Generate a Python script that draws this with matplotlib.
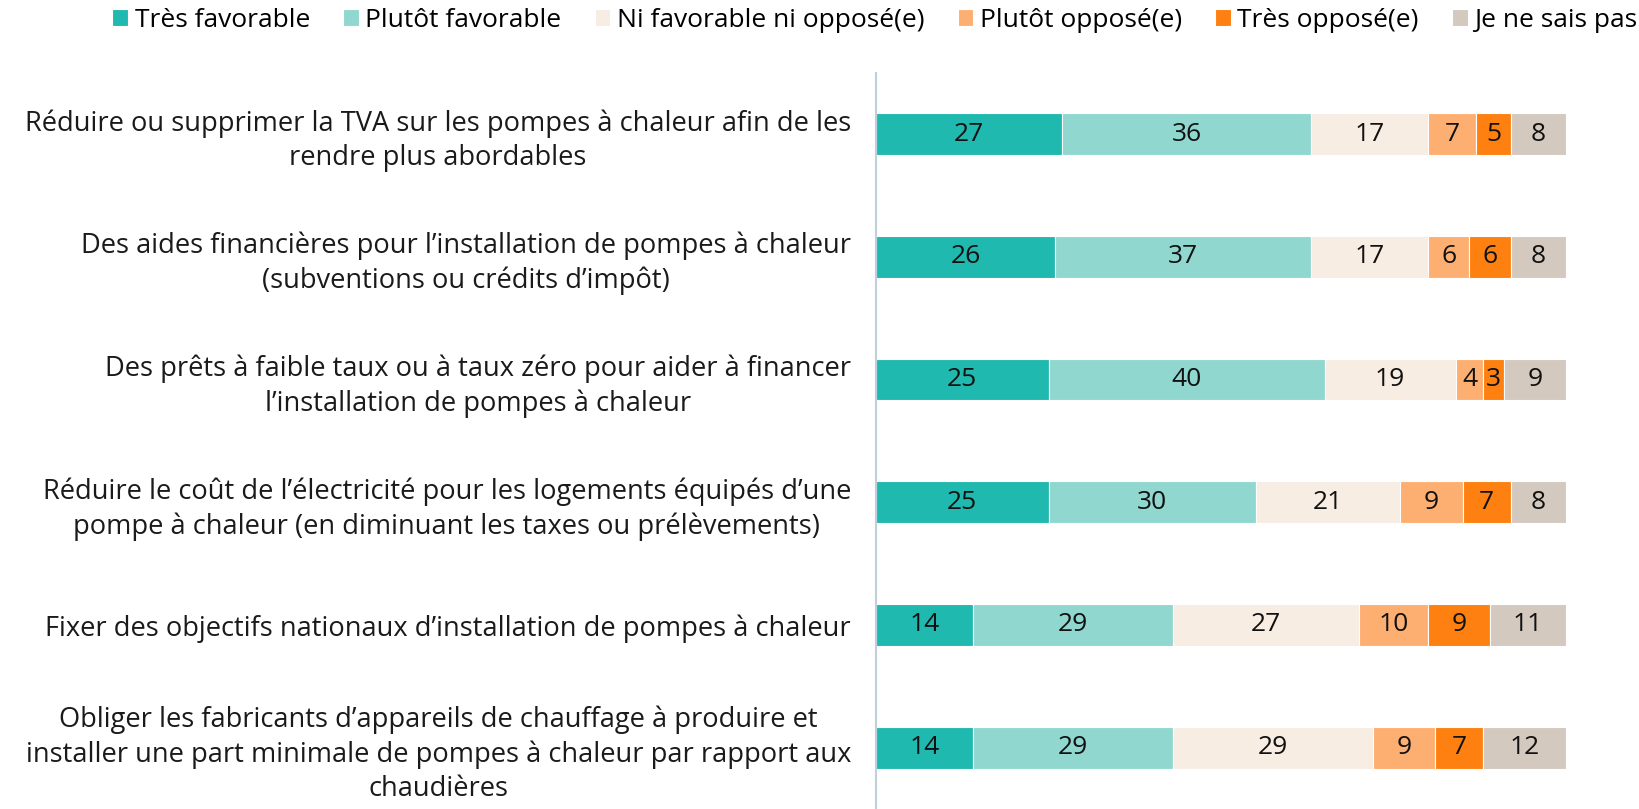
import numpy as np
import matplotlib
matplotlib.use("Agg")
import matplotlib.pyplot as plt

plt.rcParams['font.family'] = ['Open Sans', 'DejaVu Sans']

# Data
questions = [
    "Réduire ou supprimer la TVA sur les pompes à chaleur afin de les\nrendre plus abordables",
    "Des aides financières pour l’installation de pompes à chaleur\n(subventions ou crédits d’impôt)",
    "Des prêts à faible taux ou à taux zéro pour aider à financer\nl’installation de pompes à chaleur",
    "Réduire le coût de l’électricité pour les logements équipés d’une\npompe à chaleur (en diminuant les taxes ou prélèvements)",
    "Fixer des objectifs nationaux d’installation de pompes à chaleur",
    "Obliger les fabricants d’appareils de chauffage à produire et\ninstaller une part minimale de pompes à chaleur par rapport aux\nchaudières",
]
series_names = ["Très favorable", "Plutôt favorable", "Ni favorable ni opposé(e)",
                "Plutôt opposé(e)", "Très opposé(e)", "Je ne sais pas"]
tres_fav = [27, 26, 25, 25, 14, 14]
plutot_fav = [36, 37, 40, 30, 29, 29]
neutre = [17, 17, 19, 21, 27, 29]
plutot_opp = [7, 6, 4, 9, 10, 9]
tres_opp = [5, 6, 3, 7, 9, 7]
nsp = [8, 8, 9, 8, 11, 12]

colors = ["#20B9AF", "#90D7CF", "#F8EDE3", "#FDAF72", "#FD8010", "#D3C9BF"]

values = [tres_fav, plutot_fav, neutre, plutot_opp, tres_opp, nsp]

fig = plt.figure(figsize=(16.39, 8.09), dpi=100)
ax = fig.add_axes([0.5345, 0.0, 0.4210, 0.91])

y = np.arange(len(questions))
left = np.zeros(len(questions))
for name, vals, col in zip(series_names, values, colors):
    vals = np.array(vals)
    ax.barh(y, vals, left=left, height=0.34, color=col, label=name,
            edgecolor='white', linewidth=0.8)
    for yi, l, v in zip(y, left, vals):
        ax.text(l + v / 2, yi, str(v), ha='center', va='center',
                fontsize=19, color='#111111')
    left += vals

ax.set_xlim(0, 100)
ax.set_ylim(5.5, -0.5)
ax.set_yticks(y)
ax.set_yticklabels(questions, fontsize=19.6, color='#1a1a1a', linespacing=1.3,
                   multialignment='center')
ax.set_xticks([])
ax.tick_params(axis='y', length=0, pad=18)
for s in ['top', 'right', 'bottom']:
    ax.spines[s].set_visible(False)
ax.spines['left'].set_color('#BFCFDD')
ax.spines['left'].set_linewidth(1.5)

fig.legend(loc='upper left', bbox_to_anchor=(0.054, 1.02), ncol=6, frameon=False,
           fontsize=19, handlelength=0.6, handleheight=0.6, handletextpad=0.25,
           columnspacing=1.25)

fig.savefig("out.png", dpi=100)
